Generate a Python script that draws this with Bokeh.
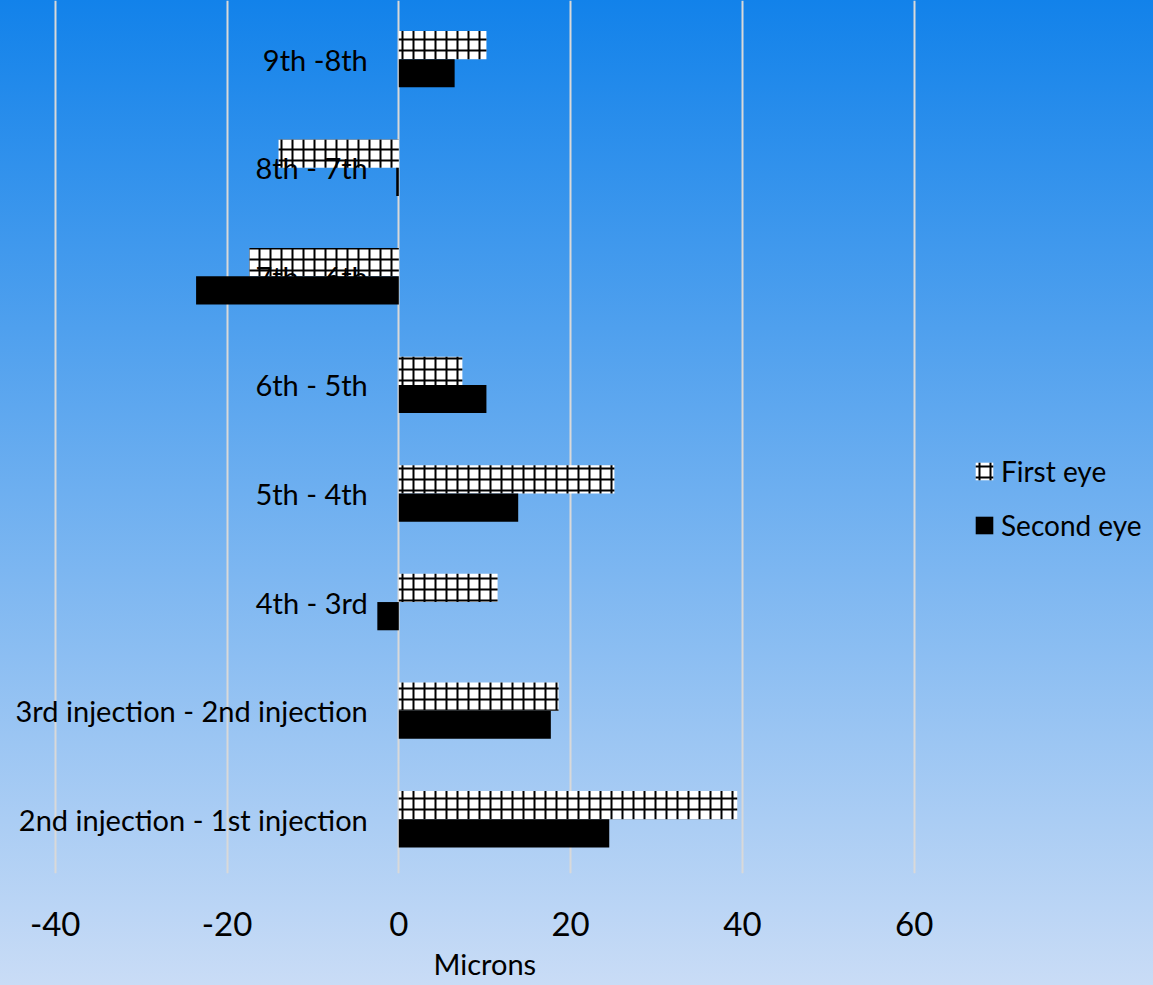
from bokeh.plotting import figure
from bokeh.models import FixedTicker, Legend, LegendItem, ColumnDataSource, Title
from bokeh.core.properties import value
from bokeh.embed import file_html
from bokeh.resources import INLINE

# Differences between consecutive injections (microns)
categories = [
    "2nd injection - 1st injection",
    "3rd injection - 2nd injection",
    "4th - 3rd",
    "5th - 4th",
    "6th - 5th",
    "7th - 6th",
    "8th - 7th",
    "9th -8th",
]
first_eye = [39.4, 18.6, 11.5, 25.1, 7.4, -17.4, -14.0, 10.2]
second_eye = [24.5, 17.7, -2.5, 13.9, 10.2, -23.6, -0.3, 6.5]
x_ticks = [-40, -20, 0, 20, 40, 60]

FONT = "Lato"
pos = list(range(len(categories)))
bar_h = 0.26

p = figure(
    width=1153, height=985,
    x_range=(-46.37, 87.86), y_range=(-0.5, 7.54),
    output_backend="svg", toolbar_location=None,
    y_axis_location=None,
    min_border_left=0, min_border_top=0,
    min_border_right=0, min_border_bottom=112,
)
p.styles = {"background": "linear-gradient(180deg, #1282EA 0%, #C9DCF6 100%)"}
p.background_fill_alpha = 0
p.border_fill_alpha = 0
p.outline_line_color = None

src_first = ColumnDataSource(dict(y=[i + bar_h / 2 for i in pos], right=first_eye))
src_second = ColumnDataSource(dict(y=[i - bar_h / 2 for i in pos], right=second_eye))

r_first = p.hbar(
    y="y", left=0, right="right", height=bar_h, source=src_first,
    fill_color="white", line_color=None,
    hatch_pattern="+", hatch_color="black", hatch_scale=11, hatch_weight=2,
)
r_second = p.hbar(
    y="y", left=0, right="right", height=bar_h, source=src_second,
    fill_color="black", line_color=None,
)

# category names sit just left of the zero line
p.text(
    x=[0] * len(categories), y=pos, text=categories,
    x_offset=-31, text_align="right", text_baseline="middle",
    text_font=value(FONT), text_font_size="29px", text_color="black",
)

p.xaxis.ticker = FixedTicker(ticks=x_ticks)
p.xaxis.major_label_overrides = {t: str(t) for t in x_ticks}
p.xaxis.axis_line_color = None
p.xaxis.major_tick_line_color = None
p.xaxis.minor_tick_line_color = None
p.xaxis.major_label_text_font = FONT
p.xaxis.major_label_text_font_size = "33px"
p.xaxis.major_label_text_color = "black"
p.xaxis.major_label_standoff = 32

# axis title sits under the plotted area, left of the legend column
p.add_layout(
    Title(
        text="Microns", align="left", offset=433, standoff=10,
        text_font=FONT, text_font_size="29px", text_font_style="normal",
        text_color="black",
    ),
    "below",
)

p.xgrid.ticker = FixedTicker(ticks=x_ticks)
p.xgrid.grid_line_color = "#D9D9D9"
p.xgrid.grid_line_width = 2
p.ygrid.visible = False

legend = Legend(
    items=[
        LegendItem(label="First eye", renderers=[r_first]),
        LegendItem(label="Second eye", renderers=[r_second]),
    ],
    location=(973, 331),
    background_fill_alpha=0, border_line_color=None,
    label_text_font=FONT, label_text_font_size="28px",
    label_text_color="black",
    glyph_width=22, glyph_height=22, label_standoff=6,
    spacing=20, padding=0, margin=0,
)
p.add_layout(legend)

open("out.html", "w").write(file_html(p, INLINE))
